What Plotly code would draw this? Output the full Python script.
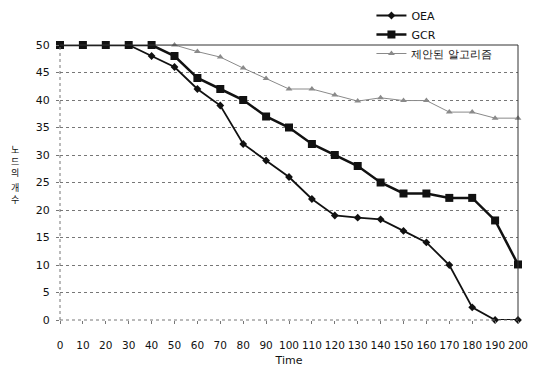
import plotly.graph_objects as go

time = [0, 10, 20, 30, 40, 50, 60, 70, 80, 90, 100, 110, 120, 130, 140, 150, 160, 170, 180, 190, 200]
oea = [50, 50, 50, 50, 48, 46, 42, 39, 32, 29, 26, 22, 19, 18.6, 18.3, 16.2, 14.1, 10, 2.3, 0, 0]
gcr = [50, 50, 50, 50, 50, 48, 44, 42, 40, 37, 35, 32, 30, 28, 25, 23, 23, 22.2, 22.2, 18.1, 10.1]
proposed = [50, 50, 50, 50, 50, 50, 48.8, 47.8, 45.8, 43.9, 42, 42, 40.9, 39.8, 40.4, 39.9, 39.9, 37.8, 37.8, 36.7, 36.7]
names = ["OEA", "GCR", "제안된 알고리즘"]
y_title_parts = ["노드의", "개수"]
x_title = "Time"

font = "DejaVu Sans"
fig = go.Figure()
fig.add_trace(go.Scatter(x=time, y=proposed, name=names[2], mode="lines+markers",
                         line=dict(color="#8a8a8a", width=1),
                         marker=dict(symbol="triangle-up", size=6, color="#8a8a8a"),
                         cliponaxis=False, legendrank=3))
fig.add_trace(go.Scatter(x=time, y=gcr, name=names[1], mode="lines+markers",
                         line=dict(color="#111", width=2.5),
                         marker=dict(symbol="square", size=8, color="#111"),
                         cliponaxis=False, legendrank=2))
fig.add_trace(go.Scatter(x=time, y=oea, name=names[0], mode="lines+markers",
                         line=dict(color="#111", width=1.8),
                         marker=dict(symbol="diamond", size=6, color="#111"),
                         cliponaxis=False, legendrank=1))

fig.update_layout(
    width=537, height=370,
    margin=dict(l=60, r=19, t=45, b=50, autoexpand=False),
    paper_bgcolor="white", plot_bgcolor="white",
    font=dict(family=font, size=11, color="#111"),
    showlegend=True,
    legend=dict(x=0.68, y=1.16, xanchor="left", yanchor="top",
                bgcolor="rgba(0,0,0,0)", font=dict(size=11), tracegroupgap=0,
                itemwidth=30),
    xaxis=dict(range=[0, 200], tickmode="array", tickvals=time,
               ticktext=[str(t) for t in time], tickangle=0,
               tickfont=dict(size=10.5),
               showgrid=False, zeroline=False, showline=False,
               ticks="outside", ticklen=3, tickcolor="#777",
               ticklabelstandoff=12, automargin=False,
               title=dict(text=x_title, font=dict(size=11), standoff=6)),
    yaxis=dict(range=[0, 50], tickmode="array", tickvals=list(range(0, 51, 5)),
               showgrid=True, gridcolor="#777", griddash="dot", gridwidth=1,
               zeroline=False, showline=False, automargin=False,
               ticks="outside", ticklen=3, tickcolor="#777",
               ticklabelstandoff=4),
)

# axis lines (dotted left & bottom) and solid top/right border
fig.add_shape(type="line", xref="paper", yref="paper", x0=0, x1=0, y0=0, y1=1,
              line=dict(color="#777", width=1, dash="dot"))
fig.add_shape(type="line", xref="paper", yref="paper", x0=0, x1=1, y0=0, y1=0,
              line=dict(color="#777", width=1, dash="dot"))
fig.add_shape(type="line", xref="paper", yref="paper", x0=0, x1=1, y0=1, y1=1,
              line=dict(color="#333", width=1))
fig.add_shape(type="line", xref="paper", yref="paper", x0=1, x1=1, y0=0, y1=1,
              line=dict(color="#333", width=1))

# stacked vertical y-axis title
part_py = [161, 194]
for txt, py in zip(y_title_parts, part_py):
    fig.add_annotation(text="<br>".join(list(txt)), xref="paper", yref="paper",
                       x=-45 / 458, y=(320 - py) / 275, xanchor="center", yanchor="middle",
                       showarrow=False,
                       font=dict(family="Noto Sans CJK KR", size=9, color="#111"))

fig.write_html("out.html")
